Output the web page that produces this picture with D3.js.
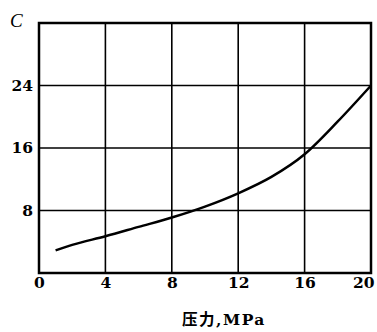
<!DOCTYPE html>
<html>
<head>
<meta charset="utf-8">
<script src="https://cdn.jsdelivr.net/npm/d3@7"></script>
<style>
  html, body { margin: 0; padding: 0; background: #fff; }
  svg { display: block; }
  .tick text { font-family: "DejaVu Serif", "Liberation Serif", serif; font-weight: bold; font-size: 15.5px; fill: #000; }
</style>
</head>
<body>
<svg id="chart" width="377" height="332"></svg>
<script>
// Pressure (MPa) and coefficient C along the curve
const pressure = [1, 2, 4, 6, 8, 10, 12, 14, 16, 18, 20];
const coeffC   = [2.9, 3.6, 4.7, 5.9, 7.1, 8.5, 10.2, 12.3, 15.2, 19.4, 24];

const xTicks = [0, 4, 8, 12, 16, 20];
const yTicks = [8, 16, 24];
const xTitle = "压力,MPa";
const yTitle = "C";

const W = 377, H = 332;
const margin = { left: 39, right: 6, top: 23, bottom: 59 };

const svg = d3.select("#chart");

const x = d3.scaleLinear().domain([0, 20]).range([margin.left, W - margin.right]);
const y = d3.scaleLinear().domain([0, 32]).range([H - margin.bottom, margin.top]);

// grid lines
const grid = svg.append("g").attr("stroke", "#000").attr("stroke-width", 1.6);
grid.selectAll("line.v").data(xTicks.slice(1, -1)).join("line")
  .attr("x1", d => x(d)).attr("x2", d => x(d))
  .attr("y1", y(0)).attr("y2", y(32));
grid.selectAll("line.h").data(yTicks).join("line")
  .attr("x1", x(0)).attr("x2", x(20))
  .attr("y1", d => y(d)).attr("y2", d => y(d));

// frame
svg.append("rect")
  .attr("x", x(0)).attr("y", y(32))
  .attr("width", x(20) - x(0)).attr("height", y(0) - y(32))
  .attr("fill", "none").attr("stroke", "#000").attr("stroke-width", 2.5);

// axes (labels only)
const xAxis = svg.append("g")
  .attr("transform", `translate(0,${y(0)})`)
  .call(d3.axisBottom(x).tickValues(xTicks).tickSize(0).tickPadding(4).tickFormat(d3.format("d")));
xAxis.select(".domain").remove();
// keep the last label inside the page edge
xAxis.selectAll(".tick text").filter(d => d === 20)
  .attr("text-anchor", "end").attr("x", 3);

const yAxis = svg.append("g")
  .attr("transform", `translate(${x(0)},0)`)
  .call(d3.axisLeft(y).tickValues(yTicks).tickSize(0).tickPadding(6).tickFormat(d3.format("d")));
yAxis.select(".domain").remove();

// curve
const line = d3.line()
  .x((d, i) => x(pressure[i]))
  .y(d => y(d))
  .curve(d3.curveMonotoneX);
svg.append("path")
  .datum(coeffC)
  .attr("d", line)
  .attr("fill", "none")
  .attr("stroke", "#000")
  .attr("stroke-width", 2.5);

// titles
svg.append("text")
  .attr("x", 10).attr("y", 27)
  .attr("font-family", "Liberation Serif, serif")
  .attr("font-style", "italic")
  .attr("font-size", 19)
  .text(yTitle);

svg.append("text")
  .attr("x", 224).attr("y", 325)
  .attr("text-anchor", "middle")
  .attr("font-family", "DejaVu Serif, Noto Sans CJK SC, serif")
  .attr("font-weight", "bold")
  .attr("font-size", 15.5)
  .attr("letter-spacing", 1.5)
  .text(xTitle);
</script>
</body>
</html>
